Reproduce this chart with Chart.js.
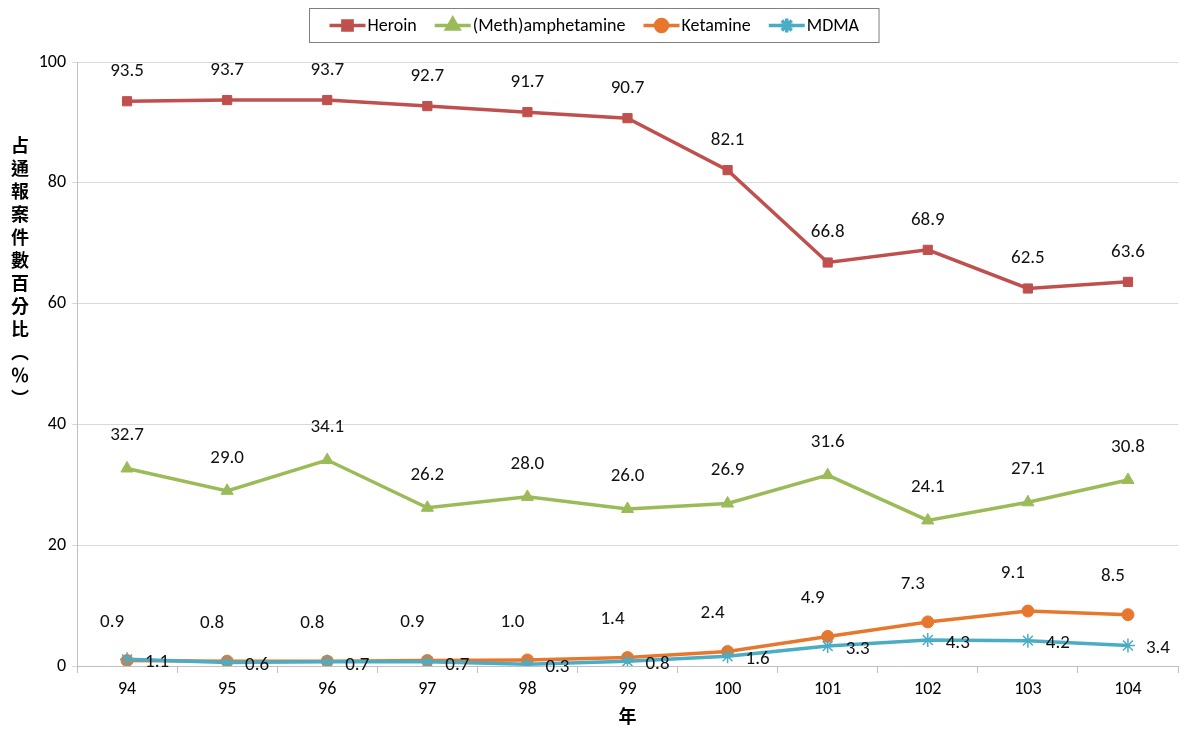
<!DOCTYPE html>
<html>
<head>
<meta charset="utf-8">
<script src="https://cdn.jsdelivr.net/npm/chart.js@4.4.0/dist/chart.umd.min.js"></script>
<style>
  html, body { margin: 0; padding: 0; background: #fff; }
  #wrap { width: 1187px; height: 731px; }
</style>
</head>
<body>
<div id="wrap"><canvas id="lineChart"></canvas></div>
<script>
const years = ["94", "95", "96", "97", "98", "99", "100", "101", "102", "103", "104"];
const heroin = [93.5, 93.7, 93.7, 92.7, 91.7, 90.7, 82.1, 66.8, 68.9, 62.5, 63.6];
const meth = [32.7, 29.0, 34.1, 26.2, 28.0, 26.0, 26.9, 31.6, 24.1, 27.1, 30.8];
const ketamine = [0.9, 0.8, 0.8, 0.9, 1.0, 1.4, 2.4, 4.9, 7.3, 9.1, 8.5];
const mdma = [1.1, 0.6, 0.7, 0.7, 0.3, 0.8, 1.6, 3.3, 4.3, 4.2, 3.4];
const yTitle = "占通報案件數百分比︵％︶";
const xTitle = "年";

const baseFont = "'Carlito', 'Noto Sans', 'Liberation Sans', sans-serif";

// value labels next to each point (no datalabels plugin available offline)
const valueLabels = {
    id: "valueLabels",
    afterDatasetsDraw(chart) {
        const ctx = chart.ctx;
        ctx.save();
        ctx.font = "19px " + baseFont;
        ctx.fillStyle = "#111";
        ctx.textAlign = "center";
        ctx.textBaseline = "middle";
        chart.data.datasets.forEach((ds, i) => {
            const meta = chart.getDatasetMeta(i);
            const lp = ds.labelPos;
            meta.data.forEach((pt, j) => {
                ctx.fillText(ds.data[j].toFixed(1), pt.x + lp.dx, pt.y + lp.dy);
            });
        });
        ctx.restore();
    }
};

// boxed legend with line + marker, like the original
const boxLegend = {
    id: "boxLegend",
    afterDraw(chart) {
        const ctx = chart.ctx;
        ctx.save();
        ctx.font = "18px " + baseFont;
        const items = chart.data.datasets.map(ds => ({ ds, w: 36 + 2 + ctx.measureText(ds.label).width }));
        const gap = 18;
        const total = items.reduce((s, it) => s + it.w, 0) + gap * (items.length - 1);
        const boxW = total + 40;
        const boxX = Math.round((chart.width - boxW) / 2) + 0.5;
        const boxY = 8.5, boxH = 34;
        ctx.strokeStyle = "#7f7f7f";
        ctx.lineWidth = 1;
        ctx.strokeRect(boxX, boxY, boxW, boxH);
        let x = boxX + 20;
        const y = boxY + boxH / 2;
        items.forEach(it => {
            const ds = it.ds;
            ctx.strokeStyle = ds.borderColor;
            ctx.lineWidth = 3.5;
            ctx.beginPath();
            ctx.moveTo(x, y);
            ctx.lineTo(x + 36, y);
            ctx.stroke();
            ctx.fillStyle = ds.pointBackgroundColor;
            ctx.strokeStyle = ds.pointBorderColor;
            Chart.helpers.drawPoint(ctx, {
                pointStyle: ds.pointStyle,
                radius: ds.pointRadius,
                borderWidth: ds.pointBorderWidth,
                rotation: 0
            }, x + 18, y);
            ctx.fillStyle = "#000";
            ctx.textAlign = "left";
            ctx.textBaseline = "middle";
            ctx.fillText(ds.label, x + 38, y + 1);
            x += it.w + gap;
        });
        ctx.restore();
    }
};

// stacked vertical y-axis title
const verticalTitle = {
    id: "verticalTitle",
    afterDraw(chart) {
        const ctx = chart.ctx;
        ctx.save();
        ctx.font = "bold 18px 'Noto Sans CJK TC', 'Noto Sans CJK SC', sans-serif";
        ctx.fillStyle = "#000";
        ctx.textAlign = "center";
        ctx.textBaseline = "middle";
        const chars = Array.from(yTitle);
        const step = 23;
        const startY = 145;
        chars.forEach((c, k) => ctx.fillText(c, 20, startY + k * step));
        ctx.restore();
    }
};

function makeSet(label, data, color, style, radius, labelPos, order) {
    return {
        label: label,
        data: data,
        borderColor: color,
        backgroundColor: color,
        pointBackgroundColor: color,
        pointBorderColor: color,
        borderWidth: 3.5,
        pointStyle: style,
        pointRadius: radius,
        pointHoverRadius: radius,
        pointBorderWidth: style === "star" ? 1.5 : 1,
        tension: 0,
        labelPos: labelPos,
        order: order
    };
}

document.addEventListener("DOMContentLoaded", function () {
    const ctx = document.getElementById("lineChart").getContext("2d");

    const data = {
        labels: years,
        datasets: [
            makeSet("Heroin", heroin, "#c0504d", "rect", 6.5, { dx: 0, dy: -30 }, 3),
            makeSet("(Meth)amphetamine", meth, "#9bbb59", "triangle", 7, { dx: 0, dy: -33 }, 2),
            makeSet("Ketamine", ketamine, "#e8772e", "circle", 6, { dx: -15, dy: -38 }, 1),
            makeSet("MDMA", mdma, "#4bacc6", "star", 7, { dx: 30, dy: 3 }, 0)
        ]
    };

    const config = {
        type: "line",
        data: data,
        options: {
            responsive: true,
            maintainAspectRatio: false,
            animation: false,
            layout: { padding: { top: 62, right: 9, bottom: 0, left: 0 } },
            plugins: {
                legend: { display: false },
                tooltip: { enabled: false }
            },
            scales: {
                x: {
                    offset: true,
                    grid: {
                        offset: true,
                        drawOnChartArea: false,
                        drawTicks: true,
                        tickLength: 7,
                        color: "#bfbfbf"
                    },
                    border: { color: "#bfbfbf" },
                    ticks: {
                        color: "#000",
                        padding: 6,
                        font: { size: 18, family: baseFont }
                    },
                    title: {
                        display: true,
                        text: xTitle,
                        color: "#000",
                        padding: { top: 2, bottom: 4 },
                        font: { size: 18, weight: "bold", family: "'Noto Sans CJK TC', sans-serif" }
                    },
                    afterFit: scale => { scale.height = 65; }
                },
                y: {
                    min: 0,
                    max: 100,
                    ticks: {
                        stepSize: 20,
                        color: "#000",
                        padding: 6,
                        font: { size: 18, family: baseFont }
                    },
                    grid: { color: "#d9d9d9", tickLength: 5 },
                    border: { color: "#bfbfbf" },
                    afterFit: scale => { scale.width = 77; }
                }
            }
        },
        plugins: [valueLabels, boxLegend, verticalTitle]
    };

    new Chart(ctx, config);
});
</script>
</body>
</html>
